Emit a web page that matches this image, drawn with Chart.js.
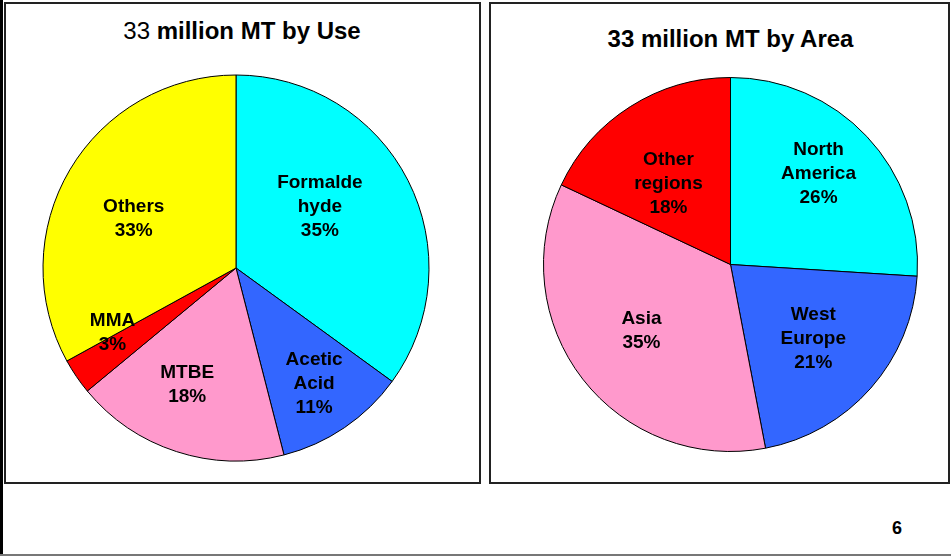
<!DOCTYPE html>
<html>
<head>
<meta charset="utf-8">
<script src="https://cdn.jsdelivr.net/npm/chart.js@4"></script>
<style>
  html, body { margin: 0; padding: 0; background: #fff; }
  body { width: 951px; height: 556px; position: relative; overflow: hidden; font-family: 'Liberation Sans', Arial, sans-serif; }
  .bar { position: absolute; left: 0; top: 0; width: 3px; height: 556px; background: #000; }
  .baseline { position: absolute; left: 0; top: 554px; width: 951px; height: 2px; background: #777; }
  .box { position: absolute; border: 2px solid #222; box-sizing: border-box; }
  .title { position: absolute; font-size: 24px; line-height: 24px; font-weight: bold; text-align: center; white-space: nowrap; color: #000; }
  .title .light { font-weight: normal; }
  .chart { position: absolute; }
  .page { position: absolute; left: 880px; width: 34px; top: 519px; font-size: 18px; line-height: 18px; font-weight: bold; text-align: center; }
</style>
</head>
<body>
<div class="bar"></div>
<div class="baseline"></div>
<div class="box" style="left:4px; top:2px; width:477px; height:482px;"></div>
<div class="box" style="left:489px; top:2px; width:461px; height:482px;"></div>
<div class="title" style="left:42px; width:400px; top:19px;"><span class="light">33</span> million MT by Use</div>
<div class="title" style="left:530px; width:401px; top:27px;">33 million MT by Area</div>
<div class="chart" style="left:36px; top:68px; width:400px; height:400px;"><canvas id="use-chart" width="400" height="400"></canvas></div>
<div class="chart" style="left:530px; top:64px; width:401px; height:401px;"><canvas id="area-chart" width="401" height="401"></canvas></div>
<div class="page">6</div>

<script>
// by use
const useLabels = [['Formalde', 'hyde'], ['Acetic', 'Acid'], ['MTBE'], ['MMA'], ['Others']];
const useValues = [35, 11, 18, 3, 33];
// by area
const areaLabels = [['North', 'America'], ['West', 'Europe'], ['Asia'], ['Other', 'regions']];
const areaValues = [26, 21, 35, 18];

const useColors = ['#00FFFF', '#3366FF', '#FF99CC', '#FF0000', '#FFFF00'];
const areaColors = ['#00FFFF', '#3366FF', '#FF99CC', '#FF0000'];

// where each label sits: fraction of radius, and shift from mid angle (deg)
const useLabelRadius = [0.54, 0.72, 0.65, 0.72, 0.59];
const useLabelShift = [-9.4, 0, 4.9, 6.9, -4.5];
const areaLabelRadius = [0.68, 0.59, 0.59, 0.55];
const areaLabelShift = [-3, 0, 1.6, -4.7];

const sliceLabels = {
  id: 'sliceLabels',
  afterDatasetsDraw(chart, args, opts) {
    const ctx = chart.ctx;
    const meta = chart.getDatasetMeta(0);
    const values = chart.data.datasets[0].data;
    ctx.save();
    ctx.fillStyle = '#000';
    ctx.font = 'bold 19px "Liberation Sans", Arial, sans-serif';
    ctx.textAlign = 'center';
    ctx.textBaseline = 'middle';
    meta.data.forEach((arc, i) => {
      const mid = (arc.startAngle + arc.endAngle) / 2 + opts.shift[i] * Math.PI / 180;
      const r = arc.outerRadius * opts.radius[i];
      const x = arc.x + Math.cos(mid) * r;
      const y = arc.y + Math.sin(mid) * r;
      const lines = chart.data.labels[i].concat([values[i] + '%']);
      const y0 = y - (lines.length - 1) * 12 + 1;
      lines.forEach((txt, j) => ctx.fillText(txt, x, y0 + j * 24));
    });
    ctx.restore();
  }
};

function criarPizza(id, labels, values, colors, radius, labelRadius, labelShift) {
  const ctx = document.getElementById(id).getContext('2d');
  return new Chart(ctx, {
    type: 'pie',
    data: {
      labels: labels,
      datasets: [{
        data: values,
        backgroundColor: colors,
        borderColor: '#000',
        borderWidth: 1
      }]
    },
    options: {
      responsive: false,
      animation: false,
      radius: radius,
      plugins: {
        legend: { display: false },
        tooltip: { enabled: false },
        sliceLabels: { radius: labelRadius, shift: labelShift }
      }
    },
    plugins: [sliceLabels]
  });
}

criarPizza('use-chart', useLabels, useValues, useColors, 193, useLabelRadius, useLabelShift);
criarPizza('area-chart', areaLabels, areaValues, areaColors, 187, areaLabelRadius, areaLabelShift);
</script>
</body>
</html>
